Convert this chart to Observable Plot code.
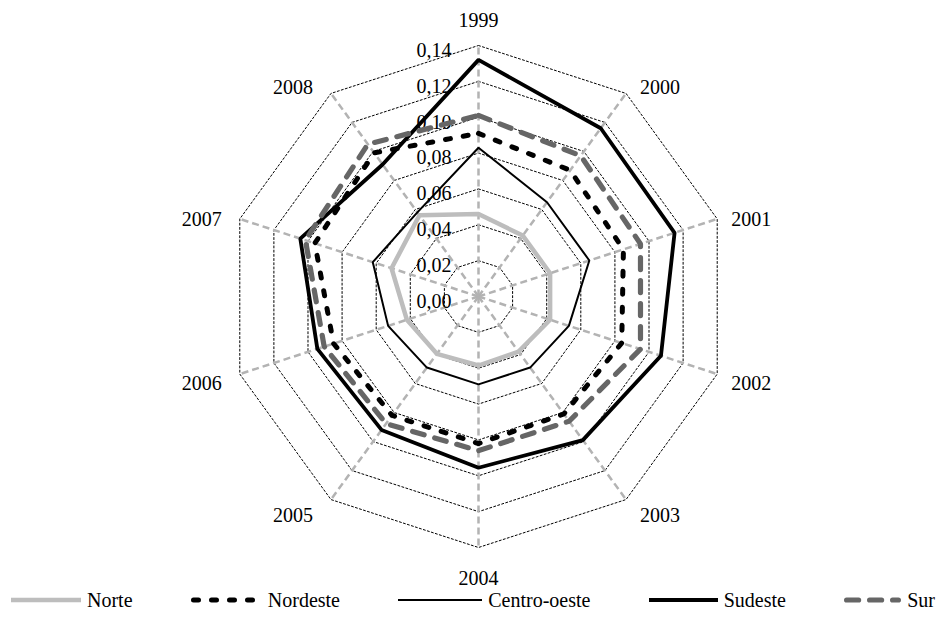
<!DOCTYPE html>
<html><head><meta charset="utf-8">
<script src="https://cdn.jsdelivr.net/npm/d3@7"></script>
<script src="https://cdn.jsdelivr.net/npm/@observablehq/plot@0.6"></script>
<style>
body{margin:0;background:#fff;font-family:"Liberation Serif","Times New Roman",serif;}
#chart{height:585px;}
#legend{display:flex;justify-content:space-between;align-items:center;height:30px;padding:0 6px 0 11px;font-size:20px;color:#000;}
.item{display:flex;align-items:center;}
.item svg{margin-right:6px;}
</style></head><body>
<div id="chart"></div>
<div id="legend"></div>
<script>
// ---- data ----
const years = ["1999","2000","2001","2002","2003","2004","2005","2006","2007","2008"];
const tickValues = [0, 0.02, 0.04, 0.06, 0.08, 0.10, 0.12, 0.14];
const tickLabels = ["0,00","0,02","0,04","0,06","0,08","0,10","0,12","0,14"];
const seriesNames = ["Norte","Nordeste","Centro-oeste","Sudeste","Sur"];
const norte       = [0.046, 0.042, 0.042, 0.042, 0.038, 0.0385, 0.0395, 0.042, 0.051, 0.056];
const nordeste    = [0.091, 0.087, 0.085, 0.084, 0.081, 0.082, 0.082, 0.085, 0.096, 0.099];
const centroOeste = [0.083, 0.065, 0.065, 0.053, 0.049, 0.049, 0.049, 0.053, 0.062, 0.058];
const sudeste     = [0.132, 0.116, 0.115, 0.107, 0.099, 0.0955, 0.092, 0.0945, 0.1045, 0.091];
const sur         = [0.101, 0.097, 0.095, 0.095, 0.086, 0.086, 0.0877, 0.0905, 0.1015, 0.105];
const seriesValues = [norte, nordeste, centroOeste, sudeste, sur];

// ---- styles ----
const styles = [
  {stroke:"#bdbdbd", strokeWidth:4.5},
  {stroke:"#000", strokeWidth:5, strokeDasharray:"5,13", strokeLinecap:"round"},
  {stroke:"#000", strokeWidth:2},
  {stroke:"#000", strokeWidth:3.8},
  {stroke:"#666", strokeWidth:5.2, strokeDasharray:"12,11", strokeLinecap:"round"}
];

const maxV = tickValues[tickValues.length - 1];
const radiusPx = 251;
const k = radiusPx / maxV;           // pixels per data unit
const n = years.length;
const ang = i => 2 * Math.PI * i / n;
const px = (r, i) => r * Math.sin(ang(i));
const py = (r, i) => r * Math.cos(ang(i));

// label offsets (pixels) from the outer vertex, boxed outward like the original
function labelOffset(i) {
  const s = Math.sin(ang(i)), c = Math.cos(ang(i));
  if (Math.abs(s) < 1e-6) return [0, c > 0 ? -25 : 31];
  return [s > 0 ? 34 : -38, 5 - 13.6 * c];
}

const rows = seriesNames.map((name, s) => seriesValues[s].map((v, i) => ({name, i, year: years[i], value: v})));
const ringData = tickValues.filter(t => t > 0).flatMap(t => years.map((y, i) => ({t, i})));
const spokeData = years.map((y, i) => ({year: y, i}));

const marks = [
  Plot.line(ringData, {x: d => px(d.t, d.i), y: d => py(d.t, d.i), z: "t", curve: "linear-closed",
    stroke: "#000", strokeWidth: 1, strokeDasharray: "2,2.2"}),
  Plot.link(spokeData, {x1: 0, y1: 0, x2: d => px(maxV, d.i), y2: d => py(maxV, d.i),
    stroke: "#b3b3b3", strokeWidth: 2.5, strokeDasharray: "7,4"}),
  Plot.text(tickValues, {x: 0, y: d => d, text: (d, i) => tickLabels[i], textAnchor: "end",
    dx: -27, dy: 5, fontSize: 20, fill: "#000"}),
  Plot.text(spokeData, {
    x: d => px(maxV, d.i) + labelOffset(d.i)[0] / k,
    y: d => py(maxV, d.i) - labelOffset(d.i)[1] / k,
    text: "year", textAnchor: "middle", fontSize: 20, fill: "#000"}),
  ...rows.map((r, s) => Plot.line(r, {x: d => px(d.value, d.i), y: d => py(d.value, d.i),
    curve: "linear-closed", strokeLinejoin: "miter", ...styles[s]}))
];

const chart = Plot.plot({
  width: 941,
  height: 585,
  margin: 0,
  style: {fontFamily: '"Liberation Serif","Times New Roman",serif', background: "#fff", overflow: "visible"},
  x: {domain: [-maxV, maxV], range: [478 - radiusPx, 478 + radiusPx], axis: null},
  y: {domain: [-maxV, maxV], range: [296 + radiusPx, 296 - radiusPx], axis: null},
  marks
});
document.getElementById("chart").appendChild(chart);

// ---- legend ----
const legend = document.getElementById("legend");
const swatchW = [70, 71, 84, 69, 57];
seriesNames.forEach((name, s) => {
  const st = styles[s];
  const item = document.createElement("div");
  item.className = "item";
  const w = swatchW[s];
  const cap = st.strokeLinecap || "butt";
  const pad = cap === "round" ? st.strokeWidth / 2 : 0;
  item.innerHTML = `<svg width="${w}" height="12"><line x1="${pad}" x2="${w - pad}" y1="6" y2="6" stroke="${st.stroke}" stroke-width="${st.strokeWidth}" ${st.strokeDasharray ? `stroke-dasharray="${st.strokeDasharray}"` : ""} stroke-linecap="${cap}"/></svg><span>${name}</span>`;
  legend.appendChild(item);
});
</script>
</body></html>
